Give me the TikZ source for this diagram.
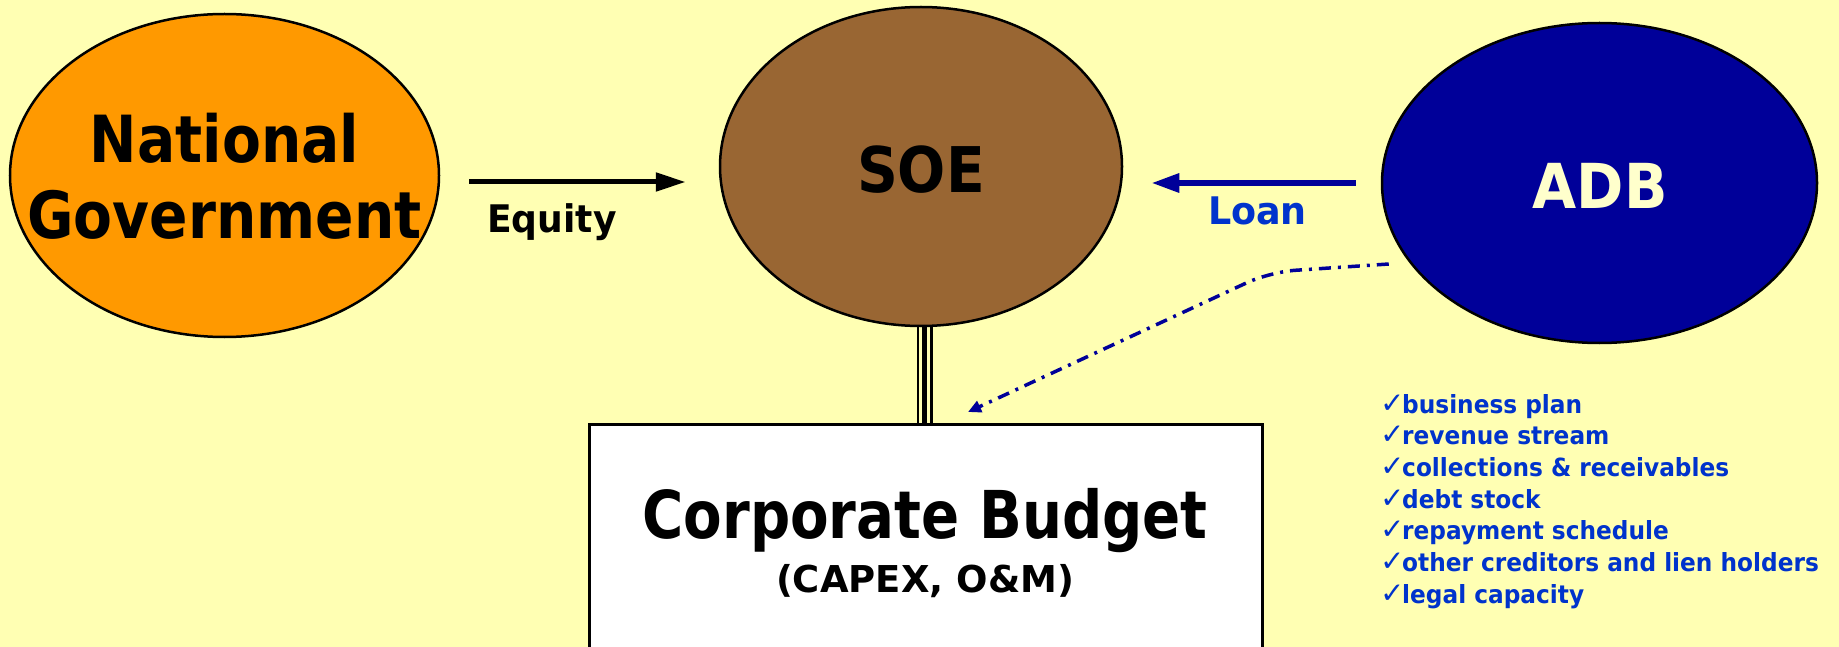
\documentclass[tikz,border=0pt]{standalone}
\usepackage{fontspec}
\setmainfont{DejaVu Sans}
\newfontfamily\monof{DejaVu Sans Mono}
\usetikzlibrary{shapes.geometric,arrows.meta,calc}
\definecolor{bgY}{HTML}{FFFFB3}
\definecolor{orangeF}{HTML}{FF9900}
\definecolor{brownF}{HTML}{996633}
\definecolor{navyF}{HTML}{000099}
\definecolor{creamT}{HTML}{FFFFCC}
\definecolor{blueT}{HTML}{0033CC}
\newcommand{\fsz}[1]{\bfseries\fontsize{#1}{#1}\selectfont}
\newcommand{\tick}{\makebox[20pt][l]{\smash{\monof\mdseries\fontsize{33pt}{33pt}\selectfont ✓}}}
\begin{document}
\begin{tikzpicture}[x=1pt,y=-1pt,
  oval/.style={ellipse, draw=black, line width=2.5pt, inner sep=0pt},
  lbl/.style={anchor=base, inner sep=0pt},
  chk/.style={anchor=base west, inner sep=0pt, text=blueT},
  flowarrow/.style={line width=5pt, -{Triangle[length=30pt,width=18pt]}}]
\fill[bgY] (0,0) rectangle (1839,647);
\useasboundingbox (0,0) rectangle (1839,647);
\clip (0,0) rectangle (1839,647);

% main nodes
\node[oval, fill=orangeF, minimum width=429pt, minimum height=323pt] (NG) at (224.5,175.5) {};
\node[oval, fill=brownF, minimum width=402pt, minimum height=319pt] (SOE) at (921,166.5) {};
\node[oval, fill=navyF, minimum width=435pt, minimum height=320pt] (ADB) at (1599.5,183) {};
\node[draw=black, fill=white, line width=3pt, minimum width=673pt, minimum height=300pt, anchor=north, inner sep=0pt] (CB) at (925.5,423) {};

% triple link SOE -> budget
\foreach \dx/\w in {-7.5/2.6, -1.3/5, 5.8/2.7}
  \draw[line width=\w pt] ([xshift=\dx pt]CB.north) -- ([xshift=\dx pt]CB.north |- SOE.south);

% arrows
\draw[flowarrow] ($(NG.east)+(29,6.5)$) -- ($(SOE.west)+(-33,15.5)$);
\draw[flowarrow, navyF, line width=6pt, -{Triangle[length=28pt,width=18pt]}] ($(ADB.west)+(-25,0)$) -- ($(SOE.east)+(28,16.5)$);
\coordinate (bend) at (1270,272);
\draw[navyF, line width=3.5pt, dash pattern=on 12pt off 7pt on 3pt off 7pt, rounded corners=25pt,
  -{Triangle[length=13pt,width=12pt]}] ($(ADB.west)+(8,81)$) -- (bend) -- ($(CB.north)+(42.5,-11)$);

% texts
\node[lbl, font=\fsz{65pt}] (NGt1) at (224.5,163) {\scalebox{0.872}[1]{National}};
\node[lbl, font=\fsz{65pt}] (NGt2) at (224.5,238) {\scalebox{0.872}[1]{Government}};
\node[lbl, font=\fsz{63pt}] (SOEt) at (921,193) {\scalebox{0.90}[1]{SOE}};
\node[lbl, font=\fsz{62pt}, text=creamT] (ADBt) at (1600,208) {\scalebox{0.92}[1]{ADB}};
\node[lbl, font=\fsz{38pt}] (EQt) at (552,233) {\scalebox{0.95}[1]{Equity}};
\node[lbl, font=\fsz{38pt}, text=blueT] (LNt) at (1257.5,225) {\scalebox{0.96}[1]{Loan}};
\node[lbl, font=\fsz{66pt}] (CBt1) at (925,538) {\scalebox{0.852}[1]{Corporate Budget}};
\node[lbl, font=\fsz{37pt}] (CBt2) at (925,592) {(CAPEX, O\&M)};

\foreach \t [count=\i from 0] in {business plan, revenue stream, collections \& receivables, debt stock, repayment schedule, other creditors and lien holders, legal capacity}
  \node[chk] (chk\i) at (1382,{413+31.67*\i}) {\tick\scalebox{0.93}[1]{\fsz{25pt}\t}};
\end{tikzpicture}
\end{document}
